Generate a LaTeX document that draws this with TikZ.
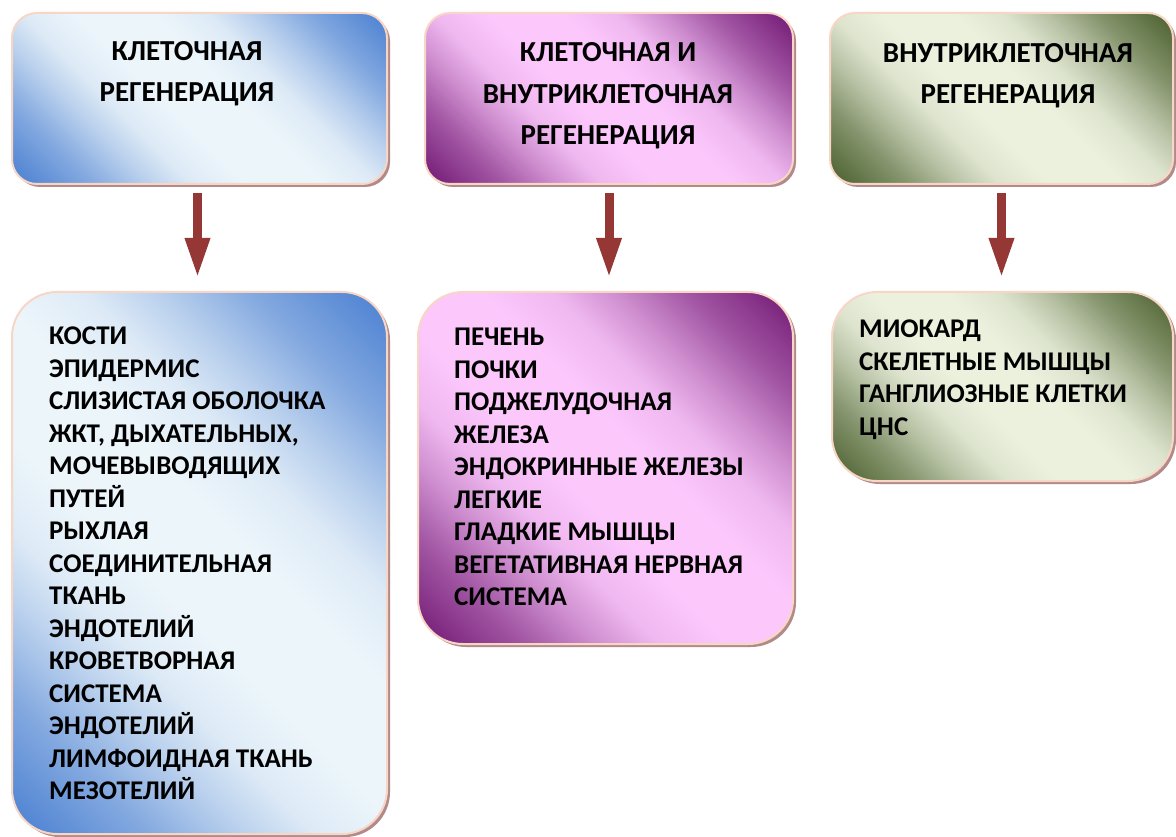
\documentclass[tikz,border=0pt]{standalone}
\usepackage{fontspec}
\setmainfont{Carlito}
\usetikzlibrary{arrows.meta,shadows}

\definecolor{blueDark}{RGB}{86,136,212}
\definecolor{blueLight}{RGB}{236,245,250}
\definecolor{plumDark}{RGB}{124,38,126}
\definecolor{plumLight}{RGB}{252,200,252}
\definecolor{oliveDark}{RGB}{86,106,58}
\definecolor{oliveLight}{RGB}{236,241,222}
\definecolor{edgeC}{RGB}{248,214,198}
\definecolor{shadowC}{RGB}{178,138,138}
\definecolor{arrowC}{RGB}{149,55,53}

% diagonal fill: dark in two corners, soft light band through the middle
\newcommand{\bandshading}[3]{%
  \pgfdeclarehorizontalshading{#1}{100bp}{color(0bp)=(#2); color(17bp)=(#2);
    color(25bp)=(#2!70!#3); color(32bp)=(#2!35!#3); color(38bp)=(#2!10!#3); color(45bp)=(#3);
    color(55bp)=(#3); color(62bp)=(#2!10!#3); color(68bp)=(#2!35!#3); color(75bp)=(#2!70!#3);
    color(83bp)=(#2); color(100bp)=(#2)}}
\bandshading{blueband}{blueDark}{blueLight}
\bandshading{plumband}{plumDark}{plumLight}
\bandshading{oliveband}{oliveDark}{oliveLight}

\begin{document}
\begin{tikzpicture}[x=1pt,y=1pt,yscale=-1,
  box/.style={rectangle, rounded corners=25pt, draw=edgeC, line width=2pt, inner sep=0pt,
    drop shadow={shadow xshift=3pt, shadow yshift=-3pt, fill=shadowC, opacity=1}},
  bigbox/.style={box, rounded corners=45pt},
  blueshade/.style={shading=blueband, shading angle=45},
  plumshade/.style={shading=plumband, shading angle=45},
  oliveshade/.style={shading=oliveband, shading angle=45},
  headtext/.style={font=\fontsize{29}{41.5}\selectfont\bfseries, align=center, inner sep=0pt},
  listtext/.style={font=\fontsize{27}{32.5}\selectfont\bfseries, align=left, inner sep=0pt, anchor=north west},
  downarrow/.style={draw=arrowC, line width=9pt, -{Triangle[width=23pt,length=40pt]}, shorten <=8pt, shorten >=13pt}
]
\useasboundingbox (0,0) rectangle (1176,837);

% top row
\node[box, blueshade, minimum width=375pt, minimum height=171pt] (b1) at (199.5,98.5) {};
\node[box, plumshade, minimum width=368pt, minimum height=171pt] (b2) at (609,98.5) {};
\node[box, oliveshade, minimum width=343pt, minimum height=171pt] (b3) at (1001.5,98.5) {};

\node[headtext] (t1) at ([shift={(-12.5,-25)}]b1.center) {КЛЕТОЧНАЯ\\РЕГЕНЕРАЦИЯ};
\node[headtext] (t2) at ([shift={(-1,-2.5)}]b2.center) {КЛЕТОЧНАЯ И\\ВНУТРИКЛЕТОЧНАЯ\\РЕГЕНЕРАЦИЯ};
\node[headtext] (t3) at ([shift={(6.5,-23)}]b3.center) {ВНУТРИКЛЕТОЧНАЯ\\РЕГЕНЕРАЦИЯ};

% bottom row
\node[bigbox, blueshade, minimum width=375pt, minimum height=542pt] (b4) at (199.5,563) {};
\node[bigbox, plumshade, minimum width=375pt, minimum height=352pt] (b5) at (605.5,468) {};
\node[bigbox, oliveshade, minimum width=341pt, minimum height=189pt] (b6) at (1002.5,386.5) {};

\node[listtext] (l1) at ([shift={(38,36)}]b4.north west) {КОСТИ\\ЭПИДЕРМИС\\СЛИЗИСТАЯ ОБОЛОЧКА\\ЖКТ, ДЫХАТЕЛЬНЫХ,\\МОЧЕВЫВОДЯЩИХ\\ПУТЕЙ\\РЫХЛАЯ\\СОЕДИНИТЕЛЬНАЯ\\ТКАНЬ\\ЭНДОТЕЛИЙ\\КРОВЕТВОРНАЯ\\СИСТЕМА\\ЭНДОТЕЛИЙ\\ЛИМФОИДНАЯ ТКАНЬ\\МЕЗОТЕЛИЙ};
\node[listtext] (l2) at ([shift={(37,37)}]b5.north west) {ПЕЧЕНЬ\\ПОЧКИ\\ПОДЖЕЛУДОЧНАЯ\\ЖЕЛЕЗА\\ЭНДОКРИННЫЕ ЖЕЛЕЗЫ\\ЛЕГКИЕ\\ГЛАДКИЕ МЫШЦЫ\\ВЕГЕТАТИВНАЯ НЕРВНАЯ\\СИСТЕМА};
\node[listtext] (l3) at ([shift={(28,29)}]b6.north west) {МИОКАРД\\СКЕЛЕТНЫЕ МЫШЦЫ\\ГАНГЛИОЗНЫЕ КЛЕТКИ\\ЦНС};

% arrows
\draw[downarrow] ([xshift=-2pt]b1.south) -- ([xshift=-2pt]b1.south |- b4.north);
\draw[downarrow] (b2.south) -- (b2.south |- b5.north);
\draw[downarrow] (b3.south) -- (b3.south |- b6.north);

\end{tikzpicture}
\end{document}
